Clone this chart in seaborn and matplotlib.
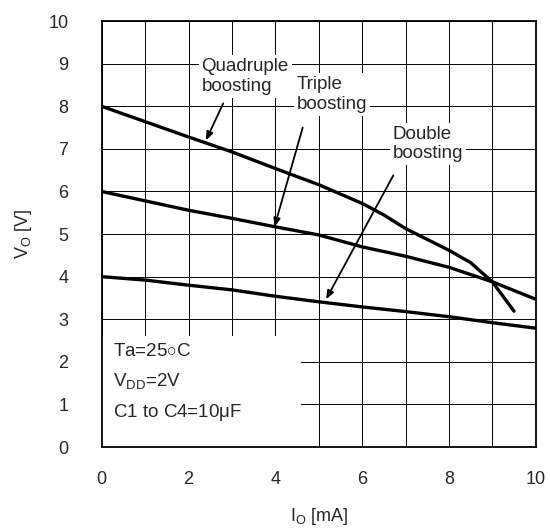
import numpy as np
import pandas as pd
import matplotlib
matplotlib.use('Agg')
import matplotlib.pyplot as plt
import seaborn as sns

# ========= data ============================================
io_ma = [0, 1, 2, 3, 4, 5, 6, 7, 8, 9, 10]
vo_double = [4.00, 3.92, 3.80, 3.69, 3.54, 3.41, 3.29, 3.18, 3.06, 2.92, 2.79]
vo_triple = [6.00, 5.78, 5.56, 5.37, 5.17, 4.98, 4.70, 4.48, 4.22, 3.88, 3.47]
io_quad = [0, 1, 2, 3, 4, 5, 6, 6.5, 7, 8, 8.5, 9, 9.5]
vo_quad = [8.00, 7.64, 7.28, 6.93, 6.54, 6.16, 5.72, 5.45, 5.13, 4.62, 4.33, 3.88, 3.19]

x_ticks = [0, 2, 4, 6, 8, 10]
y_ticks = list(range(0, 11))
grid_steps = list(range(0, 11))

conditions = [r'Ta=25$\circ$C', r'V$_\mathregular{DD}$=2V', r'C1 to C4=10$\mathregular{\mu}$F']

df = pd.concat([
    pd.DataFrame({'io': io_ma, 'vo': vo_double, 'mode': 'Double'}),
    pd.DataFrame({'io': io_ma, 'vo': vo_triple, 'mode': 'Triple'}),
    pd.DataFrame({'io': io_quad, 'vo': vo_quad, 'mode': 'Quadruple'}),
])

sns.set_style('white')
plt.rcParams['font.family'] = ['Liberation Sans', 'DejaVu Sans']
plt.rcParams['mathtext.fontset'] = 'custom'
plt.rcParams['mathtext.rm'] = 'Liberation Sans'

fig = plt.figure(figsize=(5.5, 5.29), dpi=100)
ax = fig.add_axes([0.185, 0.155, 0.789, 0.805])

# grid drawn by hand so the white condition box can hide it but not the ticks
ax.vlines(grid_steps, 0, 10, color='black', linewidth=0.7, zorder=0.4)
ax.hlines(grid_steps, 0, 10, color='black', linewidth=0.7, zorder=0.4)
ax.add_patch(plt.Rectangle((0, 0), 4.6, 2.6, facecolor='white', edgecolor='none', zorder=1))

sns.lineplot(data=df, x='io', y='vo', hue='mode', units='mode', estimator=None,
             palette={'Double': 'black', 'Triple': 'black', 'Quadruple': 'black'},
             linewidth=2.4, legend=False, sort=False, ax=ax, zorder=4)

ax.set_axisbelow(False)
ax.set_xlim(0, 10)
ax.set_ylim(0, 10)
ax.set_xticks(x_ticks)
ax.set_xticks(grid_steps, minor=True)
ax.set_yticks(y_ticks)
ax.tick_params(axis='both', which='both', direction='in', length=5, width=1,
               color='black', labelsize=13)
ax.tick_params(axis='x', pad=17)
ax.tick_params(axis='y', pad=24)
for s in ax.spines.values():
    s.set_color('black')
    s.set_linewidth(1.3)
    s.set_zorder(5)

ax.set_xlabel(r'I$_\mathregular{O}$ [mA]', fontsize=13, labelpad=13)
ax.set_ylabel(r'V$_\mathregular{O}$ [V]', fontsize=13, labelpad=10)

for i, t in enumerate(conditions):
    ax.text(0.25, 2.24 - i * 0.72, t, fontsize=13.5, va='center', ha='left', zorder=3)

# curve labels
box = dict(facecolor='white', edgecolor='none', pad=2)
ax.text(2.3, 8.7, 'Quadruple\nboosting', fontsize=13.5, ha='left', va='center',
        linespacing=1.2, bbox=box, zorder=3)
ax.text(4.5, 8.28, 'Triple\nboosting', fontsize=13.5, ha='left', va='center',
        linespacing=1.2, bbox=box, zorder=3)
ax.text(6.7, 7.12, 'Double\nboosting', fontsize=13.5, ha='left', va='center',
        linespacing=1.2, bbox=box, zorder=3)

arrow = dict(arrowstyle='-|>,head_length=0.5,head_width=0.2', color='black',
             lw=1.3, shrinkA=0, shrinkB=0)
ax.annotate('', xy=(2.4, 7.2), xytext=(2.8, 8.07), arrowprops=arrow, zorder=5)
ax.annotate('', xy=(3.98, 5.17), xytext=(4.63, 7.5), arrowprops=arrow, zorder=5)
ax.annotate('', xy=(5.17, 3.47), xytext=(6.72, 6.38), arrowprops=arrow, zorder=5)

fig.savefig('out.png', dpi=100, facecolor='white')
